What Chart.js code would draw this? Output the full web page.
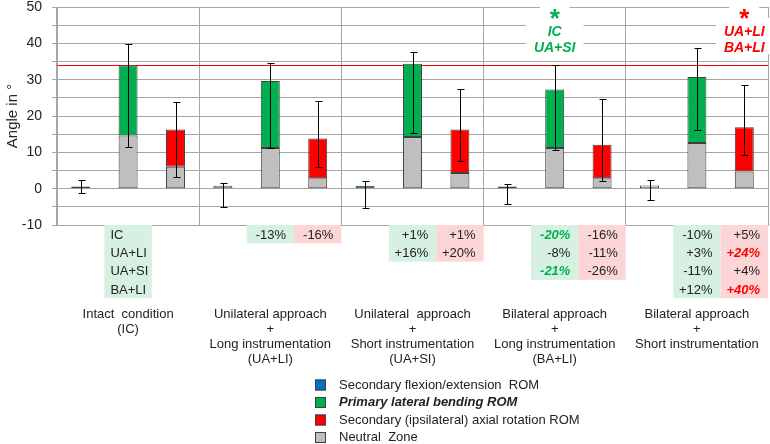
<!DOCTYPE html>
<html>
<head>
<meta charset="utf-8">
<script src="https://cdn.jsdelivr.net/npm/chart.js@4/dist/chart.umd.min.js"></script>
<style>
  html, body { margin: 0; padding: 0; background: #fff; }
  #wrap { width: 770px; height: 444px; position: relative; }
</style>
</head>
<body>
<div id="wrap"><canvas id="graficoRom"></canvas></div>
<script>
// groups (test conditions) and motions inside each group
const groupKeys = ['IC', 'UA+LI', 'UA+SI', 'BA+LI', 'BA+SI'];
const motionKeys = ['FE', 'LB', 'AR'];
const groupLabels = [
    ['Intact  condition', '(IC)'],
    ['Unilateral approach', '+', 'Long instrumentation', '(UA+LI)'],
    ['Unilateral  approach', '+', 'Short instrumentation', '(UA+SI)'],
    ['Bilateral approach', '+', 'Long instrumentation', '(BA+LI)'],
    ['Bilateral approach', '+', 'Short instrumentation']
];
const legendLabels = [
    'Secondary flexion/extension  ROM',
    'Primary lateral bending ROM',
    'Secondary (ipsilateral) axial rotation ROM',
    'Neutral  Zone'
];

// ROM (top of bar) and neutral zone (grey part) in degrees
const feRom = [0.6, 0.8, 0.8, 0.6, 0.9];
const lbRom = [33.9, 29.6, 34.4, 27.3, 30.7];
const arRom = [16.3, 13.8, 16.3, 12.1, 16.9];
const lbNz = [14.6, 11.2, 14.2, 11.2, 12.6];
const arNz = [6.0, 2.9, 4.3, 2.9, 4.7];

// error bars [low, high]
const feErr = [[-1.1, 2.3], [-5.1, 1.6], [-5.3, 2.2], [-4.3, 1.4], [-3.0, 2.3]];
const lbErr = [[11.6, 39.9], [11.2, 34.7], [15.3, 37.5], [10.7, 33.9], [16.2, 38.7]];
const arErr = [[3.2, 23.9], [5.9, 24.0], [7.7, 27.5], [2.0, 24.7], [9.4, 28.4]];

// changes vs. intact condition (table under the axis)
const compareLabels = ['IC', 'UA+LI', 'UA+SI', 'BA+LI'];
const lbDiff = [[], ['-13%'], ['+1%', '+16%'], ['-20%', '-8%', '-21%'], ['-10%', '+3%', '-11%', '+12%']];
const arDiff = [[], ['-16%'], ['+1%', '+20%'], ['-16%', '-11%', '-26%'], ['+5%', '+24%', '+4%', '+40%']];
const lbSig = [[], [false], [false, false], [true, false, true], [false, false, false, false]];
const arSig = [[], [false], [false, false], [false, false, false], [false, true, false, true]];

// significance notes above bars
const sigNotes = [
    { group: 3, motion: 1, lines: ['IC', 'UA+SI'] },
    { group: 4, motion: 2, lines: ['UA+LI', 'BA+LI'] }
];

const BLUE = '#0070c0', GREEN = '#00b050', RED = '#ff0000', GREY = '#bfbfbf';
const LINE = '#a6a6a6', EDGE = '#404040';
const FONT = "'Liberation Sans', Arial, sans-serif";
const feFill = ['#33414f', '#ffffff', BLUE, BLUE, '#ffffff'];

const categories = groupKeys.flatMap(g => motionKeys.map(m => g + ' ' + m));
const at = (g, m) => categories[g * 3 + m];

Chart.defaults.font.family = FONT;

const barBase = {
    grouped: false,
    barPercentage: 0.4,
    categoryPercentage: 1,
    borderColor: EDGE,
    borderWidth: 1,
    borderSkipped: false
};

const refLine = {
    id: 'refLine',
    beforeDatasetsDraw(chart) {
        const { ctx, chartArea, scales: { x, y } } = chart;
        ctx.save();
        // horizontal line at intact lateral bending ROM
        const yy = Math.round(y.getPixelForValue(lbRom[0])) + 0.5;
        ctx.strokeStyle = RED;
        ctx.lineWidth = 1;
        ctx.beginPath();
        ctx.moveTo(chartArea.left, yy);
        ctx.lineTo(chartArea.right, yy);
        ctx.stroke();

        // significance notes with white boxes
        sigNotes.forEach(n => {
            const cx = x.getPixelForValue(n.group * 3 + n.motion);
            const col = n.motion === 1 ? GREEN : RED;
            ctx.font = 'bold italic 14px ' + FONT;
            const w = Math.max(...n.lines.map(t => ctx.measureText(t).width)) + 16;
            ctx.fillStyle = '#fff';
            ctx.fillRect(cx - 15, 0, 30, 18);
            ctx.fillRect(cx - w / 2, 18, w, 36);
            ctx.fillStyle = col;
            ctx.textAlign = 'center';
            ctx.textBaseline = 'middle';
            ctx.font = 'bold 26px ' + FONT;
            ctx.fillText('*', cx, 20);
            ctx.font = 'bold italic 14px ' + FONT;
            n.lines.forEach((t, i) => ctx.fillText(t, cx, 32 + i * 16));
        });
        ctx.restore();
    }
};

const errorBars = {
    id: 'errorBars',
    afterDatasetsDraw(chart) {
        const { ctx, scales: { x, y } } = chart;
        ctx.save();
        ctx.strokeStyle = '#000';
        ctx.lineWidth = 1;
        [feErr, lbErr, arErr].forEach((errs, m) => errs.forEach(([lo, hi], g) => {
            const px = Math.round(x.getPixelForValue(g * 3 + m)) + 0.5;
            const y1 = Math.round(y.getPixelForValue(lo)) + 0.5;
            const y2 = Math.round(y.getPixelForValue(hi)) + 0.5;
            ctx.beginPath();
            ctx.moveTo(px, y1); ctx.lineTo(px, y2);
            ctx.moveTo(px - 3, y1); ctx.lineTo(px + 4, y1);
            ctx.moveTo(px - 3, y2); ctx.lineTo(px + 4, y2);
            ctx.stroke();
        }));
        ctx.restore();
    }
};

const bottomText = {
    id: 'bottomText',
    afterDraw(chart) {
        const { ctx, chartArea, scales: { x } } = chart;
        const cw = x.getPixelForValue(1) - x.getPixelForValue(0);
        const rowH = 18.3;
        const top = chartArea.bottom;
        ctx.save();
        ctx.textBaseline = 'middle';

        // table of changes
        const cell = (cx, rows, bg, sig, col, leftAlign) => {
            if (!rows.length) return;
            ctx.fillStyle = bg;
            ctx.fillRect(cx - cw / 2, top, cw, rows.length * rowH);
            rows.forEach((t, r) => {
                const bold = sig && sig[r];
                ctx.font = (bold ? 'bold italic ' : '') + '13px ' + FONT;
                ctx.fillStyle = bold ? col : '#222';
                ctx.textAlign = leftAlign ? 'left' : 'right';
                const tx = leftAlign ? cx - cw / 2 + 6 : cx + cw / 2 - 8;
                ctx.fillText(t, tx, top + rowH * r + rowH / 2 + 1);
            });
        };
        cell(x.getPixelForValue(1), compareLabels, '#d6f1e1', null, GREEN, true);
        groupKeys.forEach((g, i) => {
            cell(x.getPixelForValue(i * 3 + 1), lbDiff[i], '#d6f1e1', lbSig[i], GREEN, false);
            cell(x.getPixelForValue(i * 3 + 2), arDiff[i], '#fcd6d6', arSig[i], RED, false);
        });

        // group labels
        ctx.font = '13px ' + FONT;
        ctx.fillStyle = '#222';
        ctx.textAlign = 'center';
        groupLabels.forEach((lines, i) => {
            const cx = x.getPixelForValue(i * 3 + 1);
            lines.forEach((t, r) => ctx.fillText(t, cx, top + 89 + r * 15));
        });

        // legend
        const colors = [BLUE, GREEN, RED, GREY];
        legendLabels.forEach((t, i) => {
            const yy = 385 + i * 17.5;
            ctx.fillStyle = colors[i];
            ctx.fillRect(315, yy - 5.5, 11, 11);
            ctx.strokeStyle = EDGE;
            ctx.lineWidth = 1;
            ctx.strokeRect(315.5, yy - 5, 10, 10);
            ctx.font = (i === 1 ? 'bold italic ' : '') + '13px ' + FONT;
            ctx.fillStyle = '#222';
            ctx.textAlign = 'left';
            ctx.fillText(t, 339, yy);
        });
        ctx.restore();
    }
};

new Chart(document.getElementById('graficoRom').getContext('2d'), {
    type: 'bar',
    data: {
        labels: categories,
        datasets: [
            {
                ...barBase,
                label: legendLabels[0],
                data: feRom.map((v, g) => ({ x: at(g, 0), y: [0, v] })),
                backgroundColor: feFill
            },
            {
                ...barBase,
                label: legendLabels[1],
                data: lbRom.map((v, g) => ({ x: at(g, 1), y: [lbNz[g], v] })),
                backgroundColor: GREEN
            },
            {
                ...barBase,
                label: legendLabels[2],
                data: arRom.map((v, g) => ({ x: at(g, 2), y: [arNz[g], v] })),
                backgroundColor: RED
            },
            {
                ...barBase,
                label: legendLabels[3],
                data: lbNz.map((v, g) => ({ x: at(g, 1), y: [0, v] }))
                    .concat(arNz.map((v, g) => ({ x: at(g, 2), y: [0, v] }))),
                backgroundColor: GREY
            }
        ]
    },
    options: {
        responsive: true,
        maintainAspectRatio: false,
        animation: false,
        layout: { padding: { top: 7, right: 2, bottom: 219, left: 0 } },
        plugins: {
            legend: { display: false },
            tooltip: { enabled: false }
        },
        scales: {
            x: {
                grid: {
                    offset: true,
                    drawTicks: false,
                    color: c => (c.index === undefined || c.index % 3 === 0) ? LINE : 'transparent'
                },
                border: { color: LINE },
                ticks: { display: false },
                afterFit: s => { s.height = 0; }
            },
            y: {
                min: -10,
                max: 50,
                ticks: {
                    stepSize: 5,
                    autoSkip: false,
                    color: '#222',
                    padding: 10,
                    font: { size: 14 },
                    callback: v => (v % 10 === 0 ? v : '')
                },
                grid: { color: LINE, tickLength: 5 },
                border: { color: LINE },
                title: {
                    display: true,
                    text: 'Angle in °',
                    color: '#222',
                    font: { size: 15 }
                },
                afterFit: s => {
                    s.width = 57;
                    s.paddingTop = 0;
                    s.paddingBottom = 0;
                }
            }
        }
    },
    plugins: [refLine, errorBars, bottomText]
});
</script>
</body>
</html>
